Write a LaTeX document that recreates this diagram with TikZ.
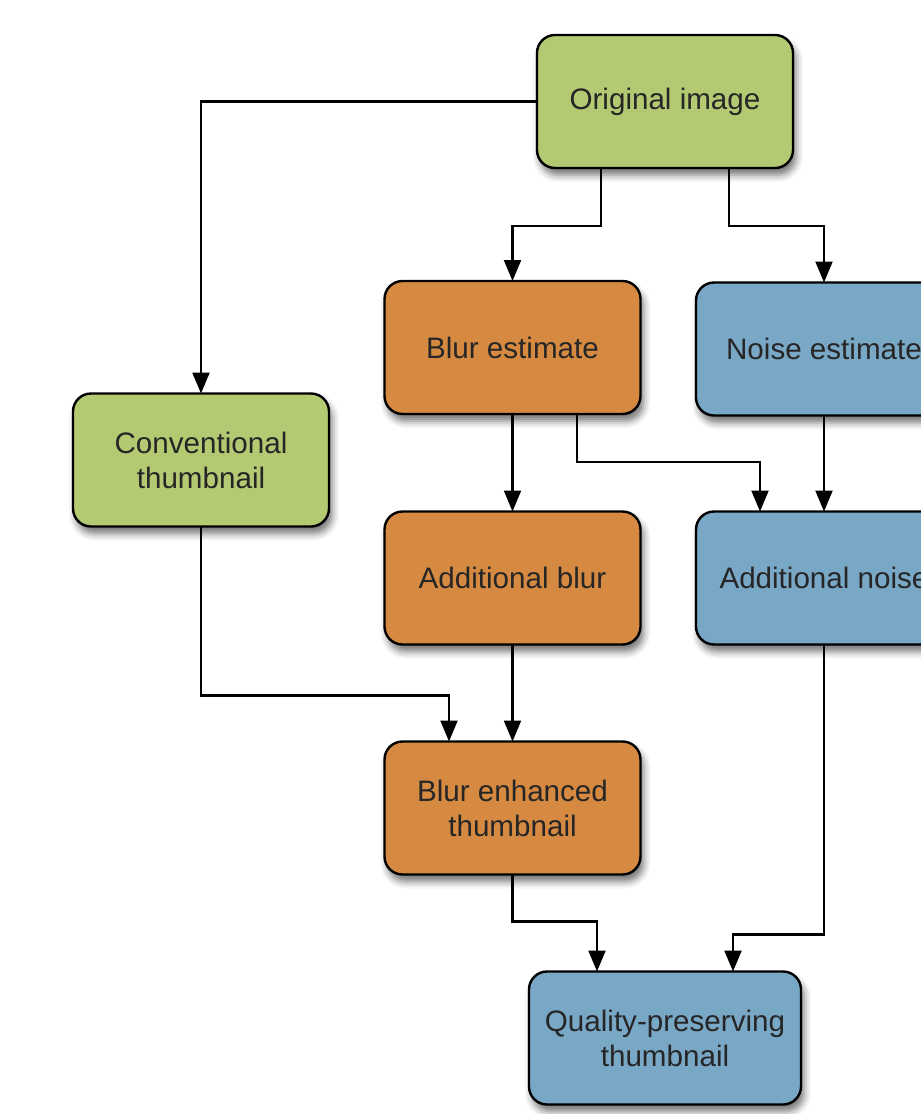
\documentclass[tikz,border=0pt]{standalone}
\usepackage{fontspec}
\setmainfont{Liberation Sans}
\usetikzlibrary{arrows.meta,shadows.blur}
\definecolor{gbox}{HTML}{B3CA73}
\definecolor{obox}{HTML}{D68A41}
\definecolor{bbox}{HTML}{79A7C6}
\definecolor{txt}{HTML}{262626}
\tikzset{
  boxnode/.style={draw=black, line width=2.4pt, rounded corners=18pt,
    minimum width=256pt, minimum height=133pt, inner sep=0pt, outer sep=0pt,
    align=center, text=txt, font=\fontsize{29.6}{35}\selectfont,
    blur shadow={shadow xshift=3pt, shadow yshift=-7pt, shadow blur radius=7pt, shadow opacity=55}},
  greenbox/.style={boxnode, fill=gbox},
  orangebox/.style={boxnode, fill=obox},
  bluebox/.style={boxnode, fill=bbox},
  arr/.style={draw=black, line width=2.2pt, -{Triangle[length=21pt,width=17pt]}}
}
\begin{document}
\begin{tikzpicture}[x=1pt,y=-1pt]
\useasboundingbox (0,0) rectangle (921,1114);
\clip (0,0) rectangle (921,1114);
\node[greenbox] (orig) at (665,101.5) {Original image};
\node[orangebox] (blur) at (512.5,347.5) {Blur estimate};
\node[bluebox] (noise) at (824,349) {Noise estimate};
\node[greenbox] (conv) at (201,460) {Conventional\\thumbnail};
\node[orangebox] (addblur) at (512.5,578) {Additional blur};
\node[bluebox] (addnoise) at (824,578) {Additional noise};
\node[orangebox] (benh) at (512.5,808) {Blur enhanced\\thumbnail};
\node[bluebox, minimum width=272pt] (qual) at (665,1038) {Quality-preserving\\thumbnail};

\draw[arr] (orig.west) -| (conv.north);
\draw[arr] ([xshift=-64pt]orig.south) -- ++(0,58) -| (blur.north);
\draw[arr] ([xshift=64pt]orig.south) -- ++(0,58) -| (noise.north);
\draw[arr] (blur.south) -- (addblur.north);
\draw[arr] ([xshift=64.5pt]blur.south) -- ++(0,48) -| ([xshift=-64pt]addnoise.north);
\draw[arr] (noise.south) -- (addnoise.north);
\draw[arr] (conv.south) -- ++(0,169) -| ([xshift=-63.5pt]benh.north);
\draw[arr] (addblur.south) -- (benh.north);
\draw[arr] (benh.south) -- ++(0,47) -| ([xshift=-68pt]qual.north);
\draw[arr] (addnoise.south) -- ++(0,290) -| ([xshift=68pt]qual.north);
\end{tikzpicture}
\end{document}
